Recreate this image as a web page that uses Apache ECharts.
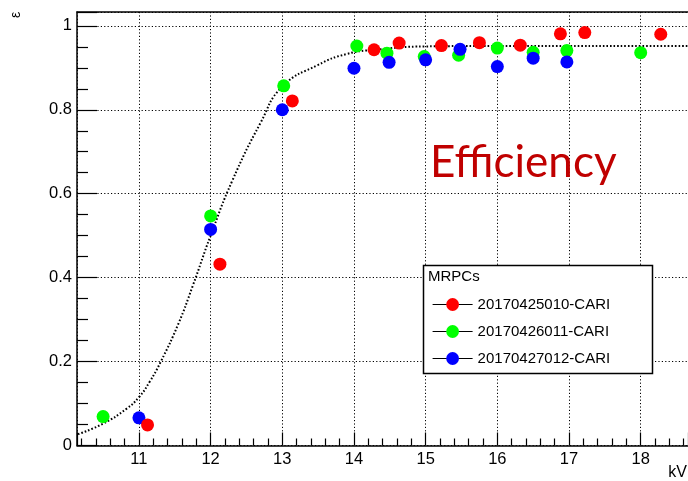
<!DOCTYPE html>
<html>
<head>
<meta charset="utf-8">
<script src="https://cdn.jsdelivr.net/npm/echarts@6/dist/echarts.min.js"></script>
<style>
  html, body { margin: 0; padding: 0; background: #fff; }
  #chart { width: 688px; height: 481px; }
</style>
</head>
<body>
<div id="chart"></div>
<script>
// ---- data ----
const seriesNames = ['20170425010-CARI', '20170426011-CARI', '20170427012-CARI'];

const redX   = [11.12, 12.13, 13.14, 14.28, 14.63, 15.22, 15.75, 16.32, 16.88, 17.22, 18.28];
const redY   = [0.049, 0.432, 0.821, 0.943, 0.959, 0.953, 0.960, 0.954, 0.981, 0.984, 0.980];

const greenX = [10.5, 12.0, 13.02, 14.04, 14.46, 14.98, 15.46, 16.0, 16.5, 16.97, 18.0];
const greenY = [0.069, 0.547, 0.857, 0.952, 0.935, 0.927, 0.930, 0.947, 0.937, 0.941, 0.936];

const blueX  = [11.0, 12.0, 13.0, 14.0, 14.49, 15.0, 15.48, 16.0, 16.5, 16.97];
const blueY  = [0.066, 0.515, 0.800, 0.899, 0.913, 0.919, 0.944, 0.903, 0.923, 0.914];

// dotted fit curve
const fitX = [10.15, 10.5, 10.83, 11.0, 11.15, 11.3, 11.55, 11.75, 12.0, 12.3, 12.7, 13.0, 13.5, 13.9, 14.3, 15.0, 16.0, 17.0, 18.0, 18.7];
const fitY = [0.027, 0.052, 0.088, 0.115, 0.152, 0.198, 0.29, 0.38, 0.5, 0.63, 0.77, 0.855, 0.907, 0.933, 0.943, 0.951, 0.952, 0.952, 0.952, 0.952];

const legendTitle = 'MRPCs';
const yTitle = 'ε';
const xTitle = 'kV';
const annotation = 'Efficiency';

function pairs(xs, ys) { return xs.map((x, i) => [x, ys[i]]); }

const FONT = '"Liberation Sans", Arial, Helvetica, sans-serif';
const dotted = { color: '#000', width: 1, type: [1.2, 2.2] };

const chart = echarts.init(document.getElementById('chart'), null, { renderer: 'canvas' });

const markerSeries = (name, xs, ys, color, z) => ({
  name: name,
  type: 'line',
  data: pairs(xs, ys),
  symbol: 'circle',
  symbolSize: 13,
  showSymbol: true,
  lineStyle: { width: 0, color: color },
  itemStyle: { color: color },
  z: z,
  animation: false
});

chart.setOption({
  animation: false,
  backgroundColor: '#fff',
  grid: { left: 77, right: 0, top: 12, bottom: 35.5, containLabel: false },
  xAxis: [
    {
      type: 'value',
      min: 10.136,
      max: 18.66,
      splitNumber: 8,
      position: 'bottom',
      axisLine: { show: true, onZero: false, lineStyle: { color: '#000', width: 1.5 } },
      axisTick: { show: true, inside: true, length: 13, lineStyle: { color: '#000', width: 1.2 } },
      minorTick: { show: true, splitNumber: 5, length: 7, lineStyle: { color: '#000', width: 1.2 } },
      splitLine: { show: true, lineStyle: dotted },
      axisLabel: {
        show: true, margin: 5, color: '#000', fontFamily: FONT, fontSize: 16.5,
        showMinLabel: false, showMaxLabel: false
      }
    },
    {
      type: 'value',
      min: 10.136,
      max: 18.66,
      position: 'top',
      axisLine: { show: true, onZero: false, lineStyle: { color: '#000', width: 1.5 } },
      axisTick: { show: false },
      axisLabel: { show: false },
      splitLine: { show: false }
    }
  ],
  yAxis: {
    type: 'value',
    min: 0,
    max: 1.033,
    interval: 0.2,
    axisLine: { show: true, onZero: false, lineStyle: { color: '#000', width: 1.5 } },
    axisTick: { show: true, inside: true, length: 20, lineStyle: { color: '#000', width: 1.2 } },
    minorTick: { show: true, splitNumber: 4, length: 11, lineStyle: { color: '#000', width: 1.2 } },
    splitLine: { show: true, lineStyle: dotted },
    axisLabel: {
      show: true, margin: 5, color: '#000', fontFamily: FONT, fontSize: 16.5,
      showMaxLabel: false,
      formatter: v => String(+v.toFixed(2))
    }
  },
  legend: {
    data: seriesNames,
    orient: 'vertical',
    left: 432,
    top: 297,
    itemWidth: 40,
    itemHeight: 16,
    itemGap: 12,
    padding: 0,
    textStyle: { color: '#000', fontFamily: FONT, fontSize: 15 },
    lineStyle: { color: '#000', width: 1.2, type: 'solid' },
    z: 120,
    selectedMode: false
  },
  graphic: [
    {
      type: 'rect', z: 100,
      shape: { x: 423.5, y: 265.5, width: 229, height: 108 },
      style: { fill: '#fff', stroke: '#000', lineWidth: 1.5 }
    },
    {
      type: 'text', z: 110, left: 428, top: 269,
      style: { text: legendTitle, fill: '#000', font: '15px ' + FONT }
    },
    {
      type: 'text', z: 110, x: 16, y: 15, rotation: Math.PI / 2,
      style: { text: yTitle, fill: '#000', font: '14px ' + FONT, align: 'center', verticalAlign: 'middle' }
    },
    {
      type: 'text', z: 110, x: 687, y: 473,
      style: { text: xTitle, fill: '#000', font: '16px ' + FONT, align: 'right', verticalAlign: 'middle' }
    },
    {
      type: 'text', z: 110, x: 430, y: 163,
      style: { text: annotation, fill: '#c00000', font: '44px Lato, "Open Sans", sans-serif', align: 'left', verticalAlign: 'middle' }
    }
  ],
  series: [
    {
      name: 'fit',
      type: 'line',
      data: pairs(fitX, fitY),
      smooth: 0.5,
      showSymbol: false,
      symbol: 'none',
      lineStyle: { color: '#000', width: 2, type: [1.6, 2] },
      z: 2,
      silent: true
    },
    markerSeries(seriesNames[1], greenX, greenY, '#00ff00', 3),
    markerSeries(seriesNames[2], blueX, blueY, '#0000ff', 4),
    markerSeries(seriesNames[0], redX, redY, '#ff0000', 5)
  ]
});
</script>
</body>
</html>
